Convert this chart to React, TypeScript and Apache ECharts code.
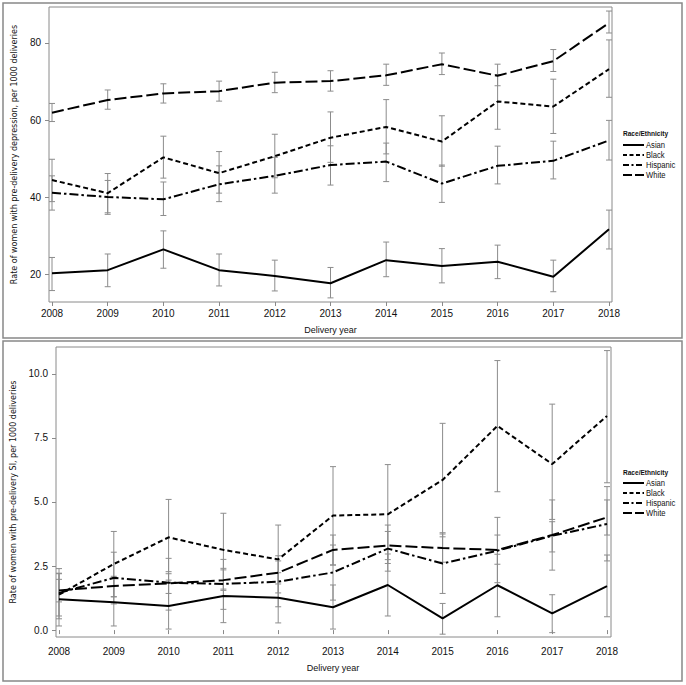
import React, { useEffect, useRef } from "react";
import * as echarts from "echarts";

const years = [2008, 2009, 2010, 2011, 2012, 2013, 2014, 2015, 2016, 2017, 2018];
const groups = ["Asian", "Black", "Hispanic", "White"];

// Panel 1: pre-delivery depression per 1000 deliveries
const depAsian = [20.2, 21.0, 26.4, 21.0, 19.5, 17.6, 23.6, 22.1, 23.2, 19.3, 31.6];
const depAsianLo = [15.7, 16.7, 21.5, 16.9, 15.6, 13.8, 19.3, 17.7, 18.8, 15.4, 26.5];
const depAsianHi = [24.3, 25.2, 31.2, 25.2, 23.6, 21.7, 28.3, 26.6, 27.5, 23.6, 36.6];
const depBlack = [44.4, 41.0, 50.3, 46.2, 50.6, 55.4, 58.2, 54.4, 64.8, 63.5, 73.2];
const depBlackLo = [38.8, 35.9, 44.9, 41.0, 45.0, 49.0, 51.2, 48.0, 57.6, 56.5, 65.9];
const depBlackHi = [49.8, 46.1, 55.8, 51.8, 56.3, 62.1, 65.3, 61.1, 71.8, 70.6, 80.8];
const depHispanic = [41.1, 40.0, 39.4, 43.3, 45.5, 48.3, 49.2, 43.5, 48.1, 49.4, 54.7];
const depHispanicLo = [36.6, 35.5, 35.2, 38.8, 41.0, 43.1, 44.0, 38.6, 43.4, 44.7, 49.6];
const depHispanicHi = [45.5, 44.3, 43.9, 48.1, 50.3, 53.3, 54.0, 48.3, 53.2, 54.5, 59.9];
const depWhite = [61.9, 65.2, 66.9, 67.5, 69.7, 70.1, 71.6, 74.5, 71.5, 75.3, 85.2];
const depWhiteLo = [59.6, 62.8, 64.4, 64.9, 67.1, 67.5, 69.0, 71.8, 68.9, 72.6, 82.6];
const depWhiteHi = [64.3, 67.8, 69.4, 70.1, 72.4, 72.8, 74.5, 77.4, 74.5, 78.3, 88.3];

// Panel 2: pre-delivery SI per 1000 deliveries
const siAsian = [1.2, 1.09, 0.94, 1.33, 1.26, 0.89, 1.76, 0.46, 1.75, 0.65, 1.72];
const siAsianLo = [0.16, 0.16, 0.04, 0.29, 0.28, 0.04, 0.55, -0.16, 0.52, -0.1, 0.52];
const siAsianHi = [2.22, 2.0, 1.95, 2.41, 2.24, 1.76, 2.97, 1.04, 2.96, 1.38, 2.93];
const siBlack = [1.38, 2.58, 3.62, 3.13, 2.76, 4.47, 4.52, 5.86, 7.97, 6.48, 8.36];
const siBlackLo = [0.44, 1.3, 2.28, 1.6, 1.45, 2.54, 2.6, 3.64, 5.4, 4.32, 5.75];
const siBlackHi = [2.4, 3.85, 5.1, 4.56, 4.1, 6.38, 6.46, 8.07, 10.52, 8.82, 10.91];
const siHispanic = [1.45, 2.04, 1.85, 1.8, 1.89, 2.25, 3.18, 2.6, 3.1, 3.68, 4.14];
const siHispanicLo = [0.55, 1.02, 0.78, 0.81, 0.91, 1.17, 2.3, 1.43, 1.85, 2.34, 2.7];
const siHispanicHi = [2.2, 3.04, 2.8, 2.76, 2.9, 3.32, 4.1, 3.8, 4.4, 5.08, 5.6];
const siWhite = [1.55, 1.72, 1.82, 1.95, 2.24, 3.13, 3.3, 3.2, 3.13, 3.71, 4.4];
const siWhiteLo = [1.1, 1.3, 1.43, 1.55, 1.8, 2.54, 2.75, 2.65, 2.57, 3.05, 3.71];
const siWhiteHi = [1.98, 2.1, 2.2, 2.35, 2.7, 3.71, 3.85, 3.75, 3.71, 4.23, 5.08];

const depTicks = [20, 40, 60, 80];
const siTicks = [0, 2.5, 5, 7.5, 10];

const NARROW = "'Liberation Sans Narrow', 'Arial Narrow', 'Liberation Sans', sans-serif";
const TITLEFONT = "'DejaVu Sans', Verdana, sans-serif";
const ERR = "#8c8c8c";
const FRAME = "#8a8a8a";

const dashes: Record<string, any> = {
  Asian: "solid",
  Black: [5, 3],
  Hispanic: [9, 3, 2.5, 3],
  White: [12, 4],
};
const legendDashes: Record<string, number[] | null> = {
  Asian: null,
  Black: [4, 2.5],
  Hispanic: [6, 2.5, 2, 2.5],
  White: [9, 3],
};

const depData: Record<string, number[][]> = {
  Asian: [depAsian, depAsianLo, depAsianHi],
  Black: [depBlack, depBlackLo, depBlackHi],
  Hispanic: [depHispanic, depHispanicLo, depHispanicHi],
  White: [depWhite, depWhiteLo, depWhiteHi],
};
const siData: Record<string, number[][]> = {
  Asian: [siAsian, siAsianLo, siAsianHi],
  Black: [siBlack, siBlackLo, siBlackHi],
  Hispanic: [siHispanic, siHispanicLo, siHispanicHi],
  White: [siWhite, siWhiteLo, siWhiteHi],
};

function errRender(params: any, api: any) {
  const x = api.value(0);
  const pLo = api.coord([x, api.value(1)]);
  const pHi = api.coord([x, api.value(2)]);
  const cap = 3;
  const style = { stroke: ERR, lineWidth: 1 };
  return {
    type: "group",
    children: [
      { type: "line", shape: { x1: pLo[0], y1: pLo[1], x2: pHi[0], y2: pHi[1] }, style },
      { type: "line", shape: { x1: pLo[0] - cap, y1: pLo[1], x2: pLo[0] + cap, y2: pLo[1] }, style },
      { type: "line", shape: { x1: pHi[0] - cap, y1: pHi[1], x2: pHi[0] + cap, y2: pHi[1] }, style },
    ],
  };
}

function buildSeries(data: Record<string, number[][]>, idx: number) {
  const out: any[] = [];
  groups.forEach((g) => {
    const [v, lo, hi] = data[g];
    out.push({
      type: "custom",
      name: g + " CI " + idx,
      xAxisIndex: idx,
      yAxisIndex: idx,
      renderItem: errRender,
      encode: { x: 0, y: [1, 2] },
      data: years.map((y, i) => [y, lo[i], hi[i]]),
      z: 1,
      silent: true,
      clip: false,
    });
  });
  groups.forEach((g) => {
    const [v] = data[g];
    out.push({
      type: "line",
      name: g,
      xAxisIndex: idx,
      yAxisIndex: idx,
      data: years.map((y, i) => [y, v[i]]),
      symbol: "none",
      itemStyle: { color: "#000" },
      lineStyle: { color: "#000", width: 2, type: dashes[g] },
      z: 3,
    });
  });
  return out;
}

function legendGraphics(titleY: number, firstY: number) {
  const els: any[] = [
    {
      type: "text",
      x: 623,
      y: titleY,
      scaleX: 0.82,
      style: {
        text: "Race/Ethnicity",
        fontFamily: NARROW,
        fontSize: 8,
        fontWeight: "bold",
        fill: "#111",
        align: "left",
        verticalAlign: "middle",
      },
    },
  ];
  groups.forEach((g, i) => {
    const y = firstY + i * 10;
    const ld = legendDashes[g];
    els.push({
      type: "line",
      shape: { x1: 623, y1: y, x2: 644, y2: y },
      style: { stroke: "#000", lineWidth: 2, lineDash: ld || undefined },
      silent: true,
    });
    els.push({
      type: "text",
      x: 646,
      y,
      scaleX: 0.85,
      style: {
        text: g,
        fontFamily: NARROW,
        fontSize: 9,
        fill: "#111",
        align: "left",
        verticalAlign: "middle",
      },
    });
  });
  return els;
}

export default function App() {
  const ref = useRef<HTMLDivElement>(null);
  useEffect(() => {
    if (!ref.current) return;
    const chart = echarts.init(ref.current, undefined, { renderer: "svg" });
    const xAxisBase = (idx: number, margin: number, gap: number) => ({
      type: "value",
      gridIndex: idx,
      min: 2008,
      max: 2018,
      interval: 1,
      axisLine: { show: false },
      axisTick: { show: true, length: 4, lineStyle: { color: FRAME } },
      axisLabel: {
        formatter: (v: number) => String(v),
        fontFamily: NARROW,
        fontSize: 10,
        color: "#111",
        margin,
      },
      splitLine: { show: false },
      name: "Delivery year",
      nameLocation: "middle",
      nameGap: gap,
      nameTextStyle: { fontFamily: NARROW, fontSize: 9, color: "#111" },
    });
    chart.setOption({
      animation: false,
      backgroundColor: "#fff",
      grid: [
        { left: 52, top: 7, width: 557, height: 295 },
        { left: 59, top: 347, width: 548, height: 290 },
      ],
      xAxis: [xAxisBase(0, 6, 23), xAxisBase(1, 9, 26)],
      yAxis: [
        {
          type: "value",
          gridIndex: 0,
          min: 12.73,
          max: 89.35,
          offset: 3,
          axisLine: { show: false },
          axisTick: { show: true, length: 4, customValues: depTicks, lineStyle: { color: FRAME } },
          axisLabel: {
            customValues: depTicks,
            fontFamily: NARROW,
            fontSize: 10,
            color: "#111",
            margin: 8,
          },
          splitLine: { show: false },
          name: "Rate of women with pre-delivery depression, per 1000 deliveries",
          nameLocation: "middle",
          nameGap: 31,
          nameTextStyle: { fontFamily: TITLEFONT, fontSize: 8, color: "#111" },
        },
        {
          type: "value",
          gridIndex: 1,
          min: -0.27,
          max: 11.05,
          offset: 3,
          axisLine: { show: false },
          axisTick: { show: true, length: 4, customValues: siTicks, lineStyle: { color: FRAME } },
          axisLabel: {
            customValues: siTicks,
            formatter: (v: number) => v.toFixed(1),
            fontFamily: NARROW,
            fontSize: 10,
            color: "#111",
            margin: 8,
          },
          splitLine: { show: false },
          name: "Rate of women with pre-delivery SI, per 1000 deliveries",
          nameLocation: "middle",
          nameGap: 38,
          nameTextStyle: { fontFamily: TITLEFONT, fontSize: 8, color: "#111" },
        },
      ],
      graphic: [
        { type: "rect", shape: { x: 3, y: 3, width: 679, height: 335 }, style: { fill: "none", stroke: "#888", lineWidth: 1.5 }, silent: true },
        { type: "rect", shape: { x: 3, y: 341, width: 679, height: 340 }, style: { fill: "none", stroke: "#888", lineWidth: 1.5 }, silent: true },
        { type: "rect", shape: { x: 49, y: 7, width: 563, height: 295 }, style: { fill: "none", stroke: FRAME, lineWidth: 1 }, silent: true },
        { type: "rect", shape: { x: 56, y: 347, width: 555, height: 290 }, style: { fill: "none", stroke: FRAME, lineWidth: 1 }, silent: true },
        ...legendGraphics(133, 145),
        ...legendGraphics(472, 483),
      ],
      series: [...buildSeries(depData, 0), ...buildSeries(siData, 1)],
    });
    return () => chart.dispose();
  }, []);
  return <div ref={ref} style={{ position: "fixed", left: 0, top: 0, width: 686, height: 685 }} />;
}
